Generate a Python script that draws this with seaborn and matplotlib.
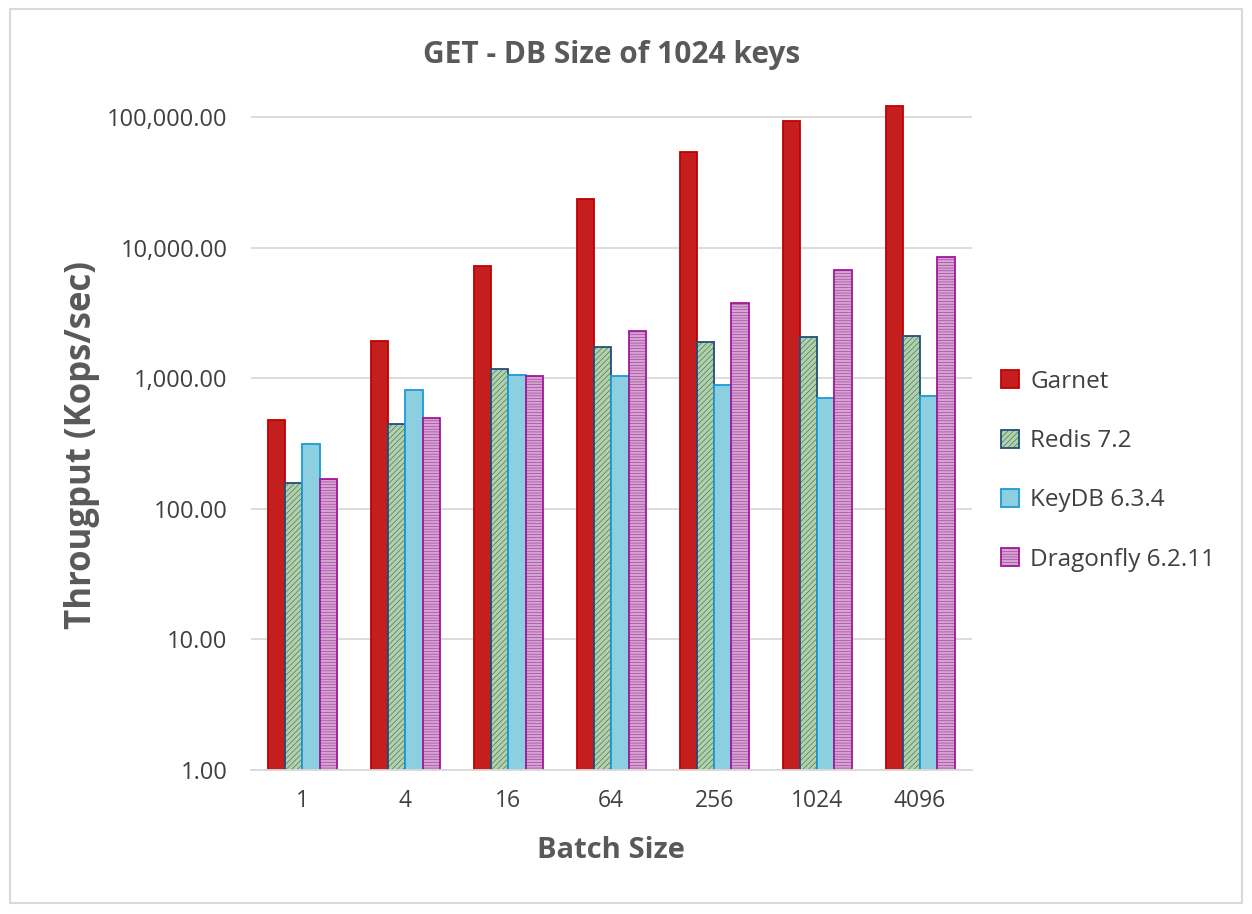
import matplotlib
matplotlib.use("Agg")
import matplotlib.pyplot as plt
import matplotlib.ticker as mticker
from matplotlib.patches import Rectangle, Patch
import pandas as pd
import seaborn as sns

batch_sizes = ["1", "4", "16", "64", "256", "1024", "4096"]
systems = ["Garnet", "Redis 7.2", "KeyDB 6.3.4", "Dragonfly 6.2.11"]

garnet = [475, 1915, 7200, 23500, 54000, 93000, 121000]
redis = [159, 450, 1168, 1723, 1880, 2055, 2093]
keydb = [311, 806, 1051, 1033, 881, 700, 725]
dragonfly = [170, 492, 1033, 2285, 3748, 6710, 8440]

rows = []
for name, vals in zip(systems, [garnet, redis, keydb, dragonfly]):
    for b, v in zip(batch_sizes, vals):
        rows.append({"batch": b, "system": name, "kops": v})
df = pd.DataFrame(rows)

sns.set_style("white")
plt.rcParams["font.family"] = ["Open Sans", "DejaVu Sans"]
plt.rcParams["hatch.linewidth"] = 0.35

fills = ["#c41e1e", "#b2d2a4", "#8ccfe0", "#d3a6d0"]
edges = ["#c00000", "#1f4e79", "#1a9ad6", "#a0189a"]
hatches = ["", "//////", "", "------"]

fig = plt.figure(figsize=(12.52, 9.14), dpi=100)
ax = fig.add_axes([0.2005, 0.1575, 0.5755, 0.733])
ax.set_yscale("log")

sns.barplot(data=df, x="batch", y="kops", hue="system", order=batch_sizes,
            hue_order=systems, width=0.67, ax=ax, legend=False)

for cont, fc, ec, h in zip(ax.containers, fills, edges, hatches):
    for bar in cont:
        bar.set_facecolor(fc)
        bar.set_edgecolor(ec)
        bar.set_linewidth(1.3)
        bar.set_hatch(h)

ax.set_ylim(1, 10 ** 5.13)
ax.set_xlim(-0.5, 6.5)
ax.yaxis.set_major_locator(mticker.LogLocator(base=10, numticks=10))
ax.yaxis.set_minor_locator(mticker.NullLocator())
ax.yaxis.set_major_formatter(mticker.FuncFormatter(lambda v, p: f"{v:,.2f}"))
ax.grid(axis="y", color="#d9d9d9", linewidth=1.3)
ax.set_axisbelow(True)
for s in ["top", "right", "left"]:
    ax.spines[s].set_visible(False)
ax.spines["bottom"].set_color("#d9d9d9")
ax.spines["bottom"].set_linewidth(1.3)
ax.tick_params(axis="y", length=0, labelsize=17, labelcolor="#404040", pad=17)
ax.tick_params(axis="x", length=0, labelsize=16.5, labelcolor="#404040", pad=14)

ax.set_title("GET - DB Size of 1024 keys", fontsize=21.5, fontweight="bold",
             color="#595959", pad=27)
ax.set_xlabel("Batch Size", fontsize=21, fontweight="bold", color="#595959", labelpad=16)
ax.set_ylabel("Througput (Kops/sec)", fontsize=25, fontweight="bold", color="#595959")
ax.yaxis.set_label_coords(-0.21, 0.485)

handles = [Patch(facecolor=fc, edgecolor=ec, hatch=h, linewidth=1.3)
           for fc, ec, h in zip(fills, edges, hatches)]
fig.legend(handles, systems, loc="center left", bbox_to_anchor=(0.782, 0.485),
           frameon=False, fontsize=17.5, labelspacing=1.45, handlelength=0.75,
           handleheight=0.75, handletextpad=0.45, labelcolor="#404040")

fig.patches.append(Rectangle((0.008, 0.012), 0.984, 0.978, transform=fig.transFigure,
                             fill=False, edgecolor="#d9d9d9", linewidth=1.5))

fig.savefig("out.png", dpi=100, facecolor="white")
